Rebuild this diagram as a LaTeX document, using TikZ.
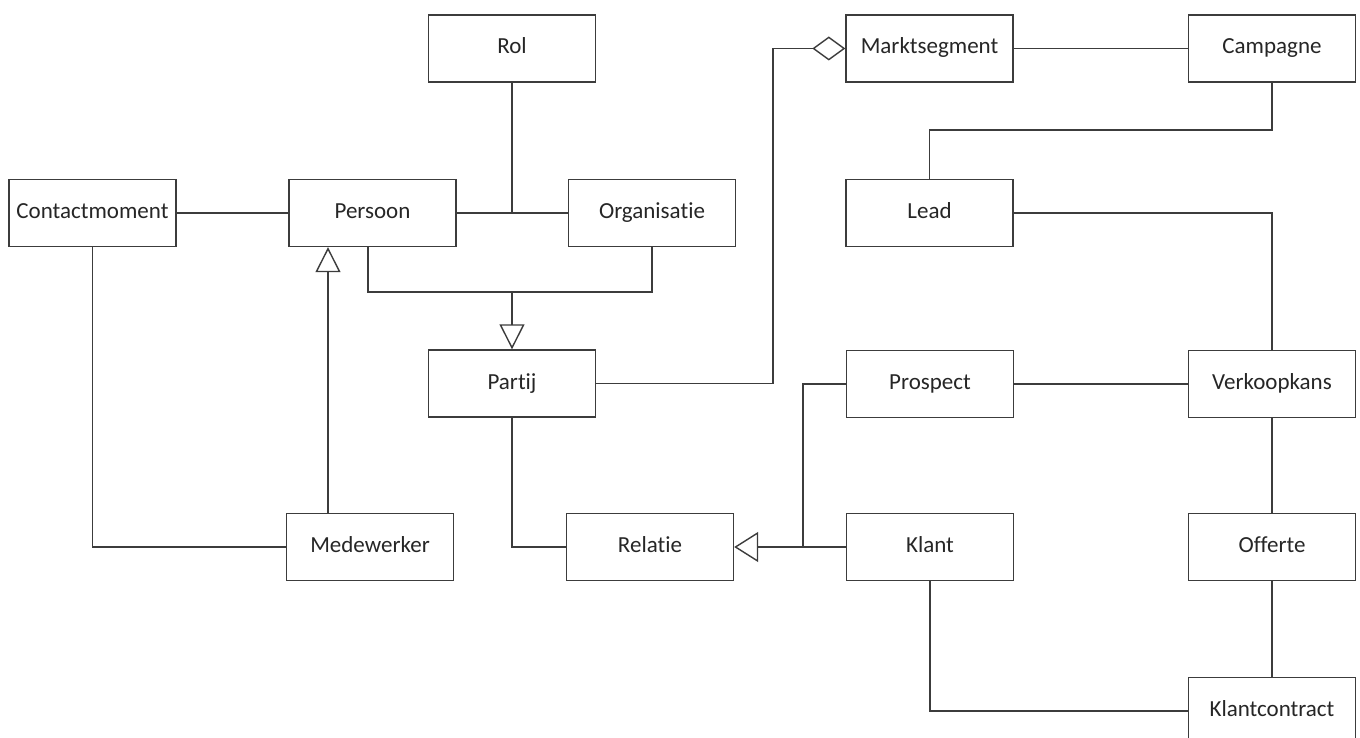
\documentclass[tikz,border=0pt]{standalone}
\usepackage{fontspec}
\setmainfont[Ligatures={NoCommon}]{Carlito}
\usetikzlibrary{arrows.meta}
\definecolor{ln}{HTML}{3C3C3C}
\definecolor{tx}{HTML}{262626}
\tikzset{
  box/.style={draw=ln, line width=1.4pt, rectangle, minimum width=167pt, minimum height=67pt, inner sep=0pt, text=tx, font=\fontsize{23}{27}\selectfont, text height=15pt, text depth=4pt},
  conn/.style={draw=ln, line width=1.4pt},
  gen/.style={conn, -{Triangle[open, length=25pt, width=25pt]}},
  genw/.style={conn, -{Triangle[open, length=24pt, width=30pt]}},
  agg/.style={conn, -{Diamond[open, length=33pt, width=24pt]}}
}
\begin{document}
\begin{tikzpicture}[x=1pt, y=-1pt]
\fill[white] (0,0) rectangle (1360,738);
\useasboundingbox (0,0) rectangle (1360,738);
% nodes
\node[box] (Rol) at (512,48.5) {Rol};
\node[box] (Marktsegment) at (929.5,48.5) {Marktsegment};
\node[box] (Campagne) at (1272,48.5) {Campagne};
\node[box] (Contactmoment) at (92.5,213) {Contactmoment};
\node[box] (Persoon) at (372.5,213) {Persoon};
\node[box] (Organisatie) at (652,213) {Organisatie};
\node[box] (Lead) at (929.5,213) {Lead};
\node[box] (Partij) at (512,383.5) {Partij};
\node[box] (Prospect) at (930,384) {Prospect};
\node[box] (Verkoopkans) at (1272,384) {Verkoopkans};
\node[box] (Medewerker) at (370,547) {Medewerker};
\node[box] (Relatie) at (650,547) {Relatie};
\node[box] (Klant) at (930,547) {Klant};
\node[box] (Offerte) at (1272,547) {Offerte};
\node[box] (Klantcontract) at (1272,711) {Klantcontract};
% helper coordinates
\coordinate (gm) at (328,0);
\coordinate (px) at (368,0);
\coordinate (ox) at (652,0);
\coordinate (jy) at (0,292);
\coordinate (rx) at (512,0);
\coordinate (ax) at (773,0);
\coordinate (kx) at (803,0);
\coordinate (cy) at (0,130);
% connectors
\draw[conn] (Contactmoment.east) -- (Persoon.west);
\draw[conn] (Persoon.east) -- (Organisatie.west);
\draw[conn] (Rol.south) -- (Rol.south |- Persoon.east);
\draw[conn] (Persoon.south -| px) -- (px |- jy) -- (ox |- jy) -- (Organisatie.south -| ox);
\draw[gen] (rx |- jy) -- (Partij.north);
\draw[gen] (Medewerker.north -| gm) -- (Persoon.south -| gm);
\draw[conn] (Contactmoment.south) |- (Medewerker.west);
\draw[agg] (Partij.east) -| (ax |- Marktsegment.west) -- (Marktsegment.west);
\draw[conn] (Partij.south) |- (Relatie.west);
\draw[genw] (Klant.west) -- (Relatie.east);
\draw[conn] (Prospect.west) -| (kx |- Klant.west);
\draw[conn] (Marktsegment.east) -- (Campagne.west);
\draw[conn] (Campagne.south) -- (Campagne.south |- cy) -| (Lead.north);
\draw[conn] (Lead.east) -| (Verkoopkans.north);
\draw[conn] (Prospect.east) -- (Verkoopkans.west);
\draw[conn] (Verkoopkans.south) -- (Offerte.north);
\draw[conn] (Offerte.south) -- (Klantcontract.north);
\draw[conn] (Klant.south) |- (Klantcontract.west);
\end{tikzpicture}
\end{document}
